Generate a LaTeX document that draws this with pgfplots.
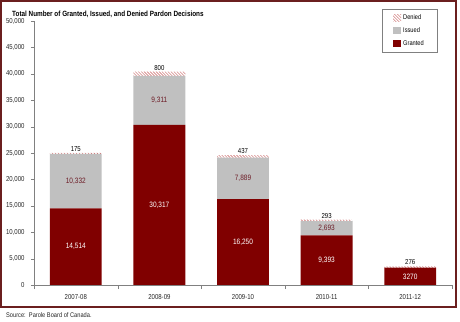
\documentclass[border=0pt]{standalone}
\usepackage{fontspec}
\setmainfont{Liberation Sans}[FakeStretch=0.84]
\usepackage{pgfplots}
\pgfplotsset{compat=1.18}
\usetikzlibrary{patterns}
\definecolor{granted}{RGB}{128,0,0}
\definecolor{issued}{RGB}{192,192,192}
\definecolor{denied}{RGB}{196,90,90}
\definecolor{frame}{RGB}{107,31,31}
\definecolor{axisgray}{RGB}{128,128,128}
\definecolor{lbl}{RGB}{110,30,40}

\pgfplotstableread{
x granted issued denied
0 14514 10332 175
1 30317 9311 800
2 16250 7889 437
3 9393 2693 293
4 3270 0 276
}\pardons

% label positions (segment middles, bar tops)
\pgfplotstableread{
x y lab
0 7257 14,514
1 15158 30,317
2 8125 16,250
3 4696 9,393
4 1635 3270
}\grantedlab
\pgfplotstableread{
x y lab
0 19680 10,332
1 34972 9,311
2 20194 7,889
3 10740 2,693
}\issuedlab
\pgfplotstableread{
x y lab
0 25021 175
1 40428 800
2 24576 437
3 12379 293
4 3546 276
}\deniedlab

\begin{document}
\begin{tikzpicture}
\useasboundingbox (-34bp,-37bp) rectangle (426bp,285bp);
\pgfplotsset{chartbase/.style={
  scale only axis, width=418bp, height=264bp,
  at={(0,0)}, anchor=south west,
  xmin=-0.5, xmax=4.5, ymin=0, ymax=50000}}
\begin{axis}[chartbase,
  ybar stacked, bar width=0.62,
  axis x line=bottom, axis y line=left,
  axis line style={draw=axisgray, -},
  tick align=outside, major tick length=3bp, minor tick length=4bp,
  xtick={0,...,4},
  xticklabels={2007-08,2008-09,2009-10,2010-11,2011-12},
  minor xtick={-0.5,0.5,1.5,2.5,3.5,4.5},
  major x tick style={draw=none},
  minor x tick style={draw=axisgray},
  ytick distance=5000, ytick style={draw=axisgray},
  scaled y ticks=false,
  /pgf/number format/fixed,
  /pgf/number format/1000 sep={,},
  /pgf/number format/assume math mode=true,
  tick label style={font=\fontsize{7.2}{8}\selectfont, text=black!85},
  xticklabel style={yshift=-3bp},
  yticklabel style={xshift=-3bp},
  reverse legend,
  legend cell align=left,
  legend style={at={(0.8325,1.045)}, anchor=north west, draw=axisgray,
    font=\fontsize{6.8}{8}\selectfont, inner xsep=11bp, inner ysep=3.5bp,
    row sep=2.5bp, /tikz/every even column/.append style={column sep=4bp}},
  legend image code/.code={\draw[#1, draw=none] (0bp,-3.5bp) rectangle (8bp,4bp);},
]
\addplot[fill=granted, draw=none] table[x=x, y=granted] {\pardons};
\addlegendentry{Granted}
\addplot[fill=issued, draw=none] table[x=x, y=issued] {\pardons};
\addlegendentry{Issued}
\addplot[pattern=north west lines, pattern color=denied, draw=none] table[x=x, y=denied] {\pardons};
\addlegendentry{Denied}
\end{axis}
\begin{axis}[chartbase, hide axis]
\addplot[draw=none, mark=none, nodes near coords, point meta=explicit symbolic,
  every node near coord/.style={anchor=center, text=white,
    font=\fontsize{7.8}{9}\selectfont}]
  table[x=x, y=y, meta=lab] {\grantedlab};
\addplot[draw=none, mark=none, nodes near coords, point meta=explicit symbolic,
  every node near coord/.style={anchor=center, text=lbl,
    font=\fontsize{7.8}{9}\selectfont}]
  table[x=x, y=y, meta=lab] {\issuedlab};
\addplot[draw=none, mark=none, nodes near coords, point meta=explicit symbolic,
  every node near coord/.style={anchor=south, text=black, inner sep=1.2bp,
    font=\fontsize{7.2}{8}\selectfont}]
  table[x=x, y=y, meta=lab] {\deniedlab};
\end{axis}
\draw[frame, line width=2bp] (-33bp,284bp) rectangle (422bp,-22bp);
\node[anchor=west, font=\bfseries\fontsize{7.6}{9}\selectfont, inner sep=0]
  at (-22bp,271bp) {Total Number of Granted, Issued, and Denied Pardon Decisions};
\node[anchor=west, font=\fontsize{6.8}{8}\selectfont, inner sep=0, text=black!85]
  at (-28bp,-30bp) {Source:\ \ Parole Board of Canada.};
\end{tikzpicture}
\end{document}
